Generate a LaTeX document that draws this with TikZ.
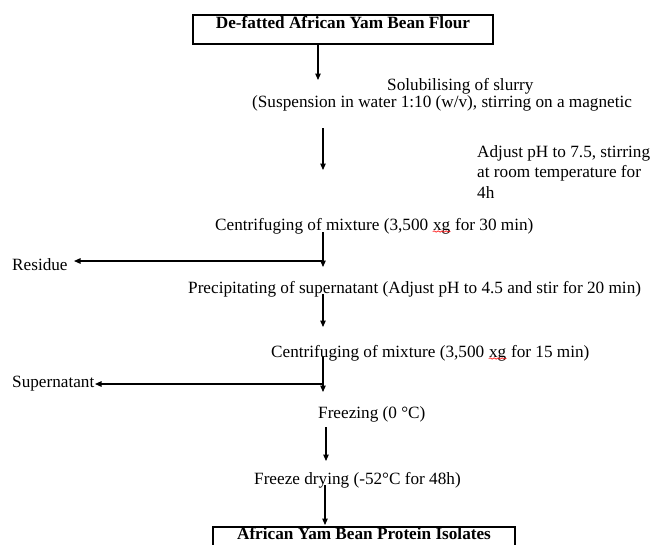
\documentclass[tikz,border=0pt]{standalone}
\usepackage{fontspec}
\setmainfont{Liberation Serif}
\usetikzlibrary{arrows.meta,decorations.pathmorphing}
\tikzset{
  txt/.style={anchor=base west, inner sep=0pt, font=\fontsize{17.2}{20.5}\selectfont},
  titlebox/.style={draw, line width=1.3pt, inner xsep=0pt, inner ysep=0pt, anchor=base,
    minimum width=300pt, font=\fontsize{17.2}{20.5}\selectfont\bfseries},
  flow/.style={-{Triangle[length=6.5pt,width=5.5pt]}, line width=1.15pt},
}
\newcommand\redwave[1]{\tikz[baseline=(w.base)]{\node[inner sep=0pt,anchor=center,draw=none](w){#1};
  \draw[red,line width=0.6pt,decorate,decoration={snake,amplitude=0.7pt,segment length=4pt}]
    ([yshift=-1.5pt]w.base west)--([yshift=-1.5pt]w.base east);}}
\begin{document}
\begin{tikzpicture}[x=1pt,y=-1pt]
\useasboundingbox (0,0) rectangle (652,544);
% boxes
\node[titlebox, text height=13pt, text depth=16pt] (top) at (343,28) {De-fatted African Yam Bean Flour};
\node[titlebox, minimum width=302pt, text height=12.5pt, text depth=20pt] (bottom) at (364,539.5) {African Yam Bean Protein Isolates};
% texts
\node[txt] (sol) at (387,90) {Solubilising of slurry};
\node[txt] (susp) at (252,107) {(Suspension in water 1:10 (w/v), stirring on a magnetic};
\node[txt] (adj1) at (477,157) {Adjust pH to 7.5, stirring};
\node[txt] (adj2) at (477,177.5) {at room temperature for};
\node[txt] (adj3) at (477,198) {4h};
\node[txt] (cent1) at (215,230) {Centrifuging of mixture (3,500 \redwave{xg} for 30 min)};
\node[txt] (res) at (12,270) {Residue};
\node[txt] (prec) at (188,293) {Precipitating of supernatant (Adjust pH to 4.5 and stir for 20 min)};
\node[txt] (cent2) at (271,357) {Centrifuging of mixture (3,500 \redwave{xg} for 15 min)};
\node[txt] (sup) at (12,387) {Supernatant};
\node[txt] (frz) at (318,418) {Freezing (0 \textdegree C)};
\node[txt] (fd) at (254,484) {Freeze drying (-52\textdegree C for 48h)};
% connector end points
\coordinate (a1e) at (318,80);
\coordinate (a2s) at (323,128);
\coordinate (a2e) at (323,170);
\coordinate (a3s) at (323,232);
\coordinate (a3e) at (323,267);
\coordinate (b1) at (323,261);
\coordinate (b1e) at (74,261);
\coordinate (a4s) at (323,294);
\coordinate (a4e) at (323,327);
\coordinate (a5s) at (323,357);
\coordinate (a5e) at (323,392);
\coordinate (b2) at (323,384);
\coordinate (b2e) at (95,384);
\coordinate (a6s) at (326,427);
\coordinate (a6e) at (326,461);
\coordinate (a7s) at (325,485);
\coordinate (a7e) at (325,525);
% connectors
\draw[flow] (top.south -| a1e) -- (a1e);
\draw[flow] (a2s) -- (a2e);
\draw[flow] (a3s) -- (a3e);
\draw[flow] (b1) -- (b1e);
\draw[flow] (a4s) -- (a4e);
\draw[flow] (a5s) -- (a5e);
\draw[flow] (b2) -- (b2e);
\draw[flow] (a6s) -- (a6e);
\draw[flow] (a7s) -- (a7e);
\end{tikzpicture}
\end{document}
